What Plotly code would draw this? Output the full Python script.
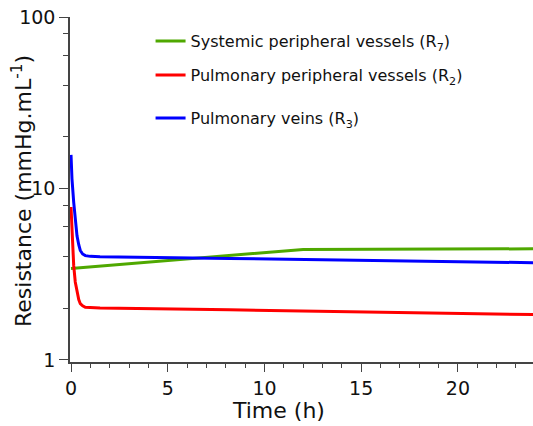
import plotly.graph_objects as go

# Data
time_h = [0, 0.05, 0.14, 0.22, 0.31, 0.4, 0.48, 0.6, 0.74, 1.0, 1.5, 8.2, 24]
pulm_veins_R3 = [15.7, 11.4, 8.3, 6.5, 5.3, 4.7, 4.35, 4.15, 4.06, 4.02, 4.0, 3.91, 3.69]
pulm_periph_R2 = [7.8, 5.4, 3.55, 2.85, 2.45, 2.25, 2.13, 2.07, 2.03, 2.02, 2.01, 1.96, 1.84]
sys_time_h = [0, 12, 24]
sys_periph_R7 = [3.42, 4.41, 4.45]

names = [
    "Systemic peripheral vessels (R<sub>7</sub>)",
    "Pulmonary peripheral vessels (R<sub>2</sub>)",
    "Pulmonary veins (R<sub>3</sub>)",
]
colors = ["#4fa800", "#ff0000", "#0000ff"]

y_major = [1, 10, 100]
y_minor = [2, 4, 6, 8, 20, 40, 60, 80]
x_major = [0, 5, 10, 15, 20]
x_minor = list(range(0, 25))

FONT = "DejaVu Sans"

fig = go.Figure()
fig.add_trace(go.Scatter(x=sys_time_h, y=sys_periph_R7, mode="lines", name=names[0], showlegend=True,
                         line=dict(color=colors[0], width=3), legend="legend"))
fig.add_trace(go.Scatter(x=time_h, y=pulm_periph_R2, mode="lines", name=names[1], showlegend=True,
                         line=dict(color=colors[1], width=3), legend="legend2"))
fig.add_trace(go.Scatter(x=time_h, y=pulm_veins_R3, mode="lines", name=names[2], showlegend=True,
                         line=dict(color=colors[2], width=3), legend="legend3"))

leg_common = dict(x=0.174, xanchor="left", yanchor="middle", bgcolor="rgba(0,0,0,0)",
                  visible=True, font=dict(family=FONT, size=16, color="#111"))

fig.update_layout(
    width=533, height=426,
    margin=dict(l=70, r=0, t=17, b=64),
    paper_bgcolor="white", plot_bgcolor="white",
    showlegend=True,
    font=dict(family=FONT, color="#111"),
    legend=dict(y=1 - (41 - 17) / 345, **leg_common),
    legend2=dict(y=1 - (75 - 17) / 345, **leg_common),
    legend3=dict(y=1 - (118 - 17) / 345, **leg_common),
    xaxis=dict(
        range=[-0.052, 23.88], showgrid=False, zeroline=False, automargin=False,
        showline=True, linecolor="#444", linewidth=1.5,
        ticks="outside", ticklen=8, tickwidth=1.2, tickcolor="#444",
        tickmode="array", tickvals=x_major, ticktext=[str(v) for v in x_major],
        tickfont=dict(family=FONT, size=19, color="#111"),
        minor=dict(tickmode="array", tickvals=x_minor, ticks="outside", ticklen=4,
                   tickwidth=1.2, tickcolor="#444", showgrid=False),
    ),
    yaxis=dict(
        type="log", range=[-0.0117, 2.0], showgrid=False, zeroline=False, automargin=False,
        showline=True, linecolor="#444", linewidth=1.5,
        ticks="outside", ticklen=9, tickwidth=1.2, tickcolor="#444",
        tickmode="array", tickvals=y_major, ticktext=[str(v) for v in y_major],
        tickfont=dict(family=FONT, size=19, color="#111"),
        minor=dict(tickmode="array", tickvals=y_minor, ticks="outside", ticklen=5,
                   tickwidth=1.2, tickcolor="#444", showgrid=False),
    ),
    annotations=[
        dict(text="Resistance (mmHg.mL<sup>-1</sup>)", textangle=-90,
             xref="paper", yref="paper", x=(22 - 70) / 463, y=(362 - 191) / 345,
             xanchor="center", yanchor="middle", showarrow=False,
             font=dict(family=FONT, size=22, color="#111")),
        dict(text="Time (h)",
             xref="paper", yref="paper", x=(278 - 70) / 463, y=-(425 - 362) / 345,
             xanchor="center", yanchor="bottom", showarrow=False,
             font=dict(family=FONT, size=22, color="#111")),
    ],
)

fig.write_html("out.html", config={"displayModeBar": False},
               post_script="document.body.style.margin='0';document.body.style.padding='0';")
